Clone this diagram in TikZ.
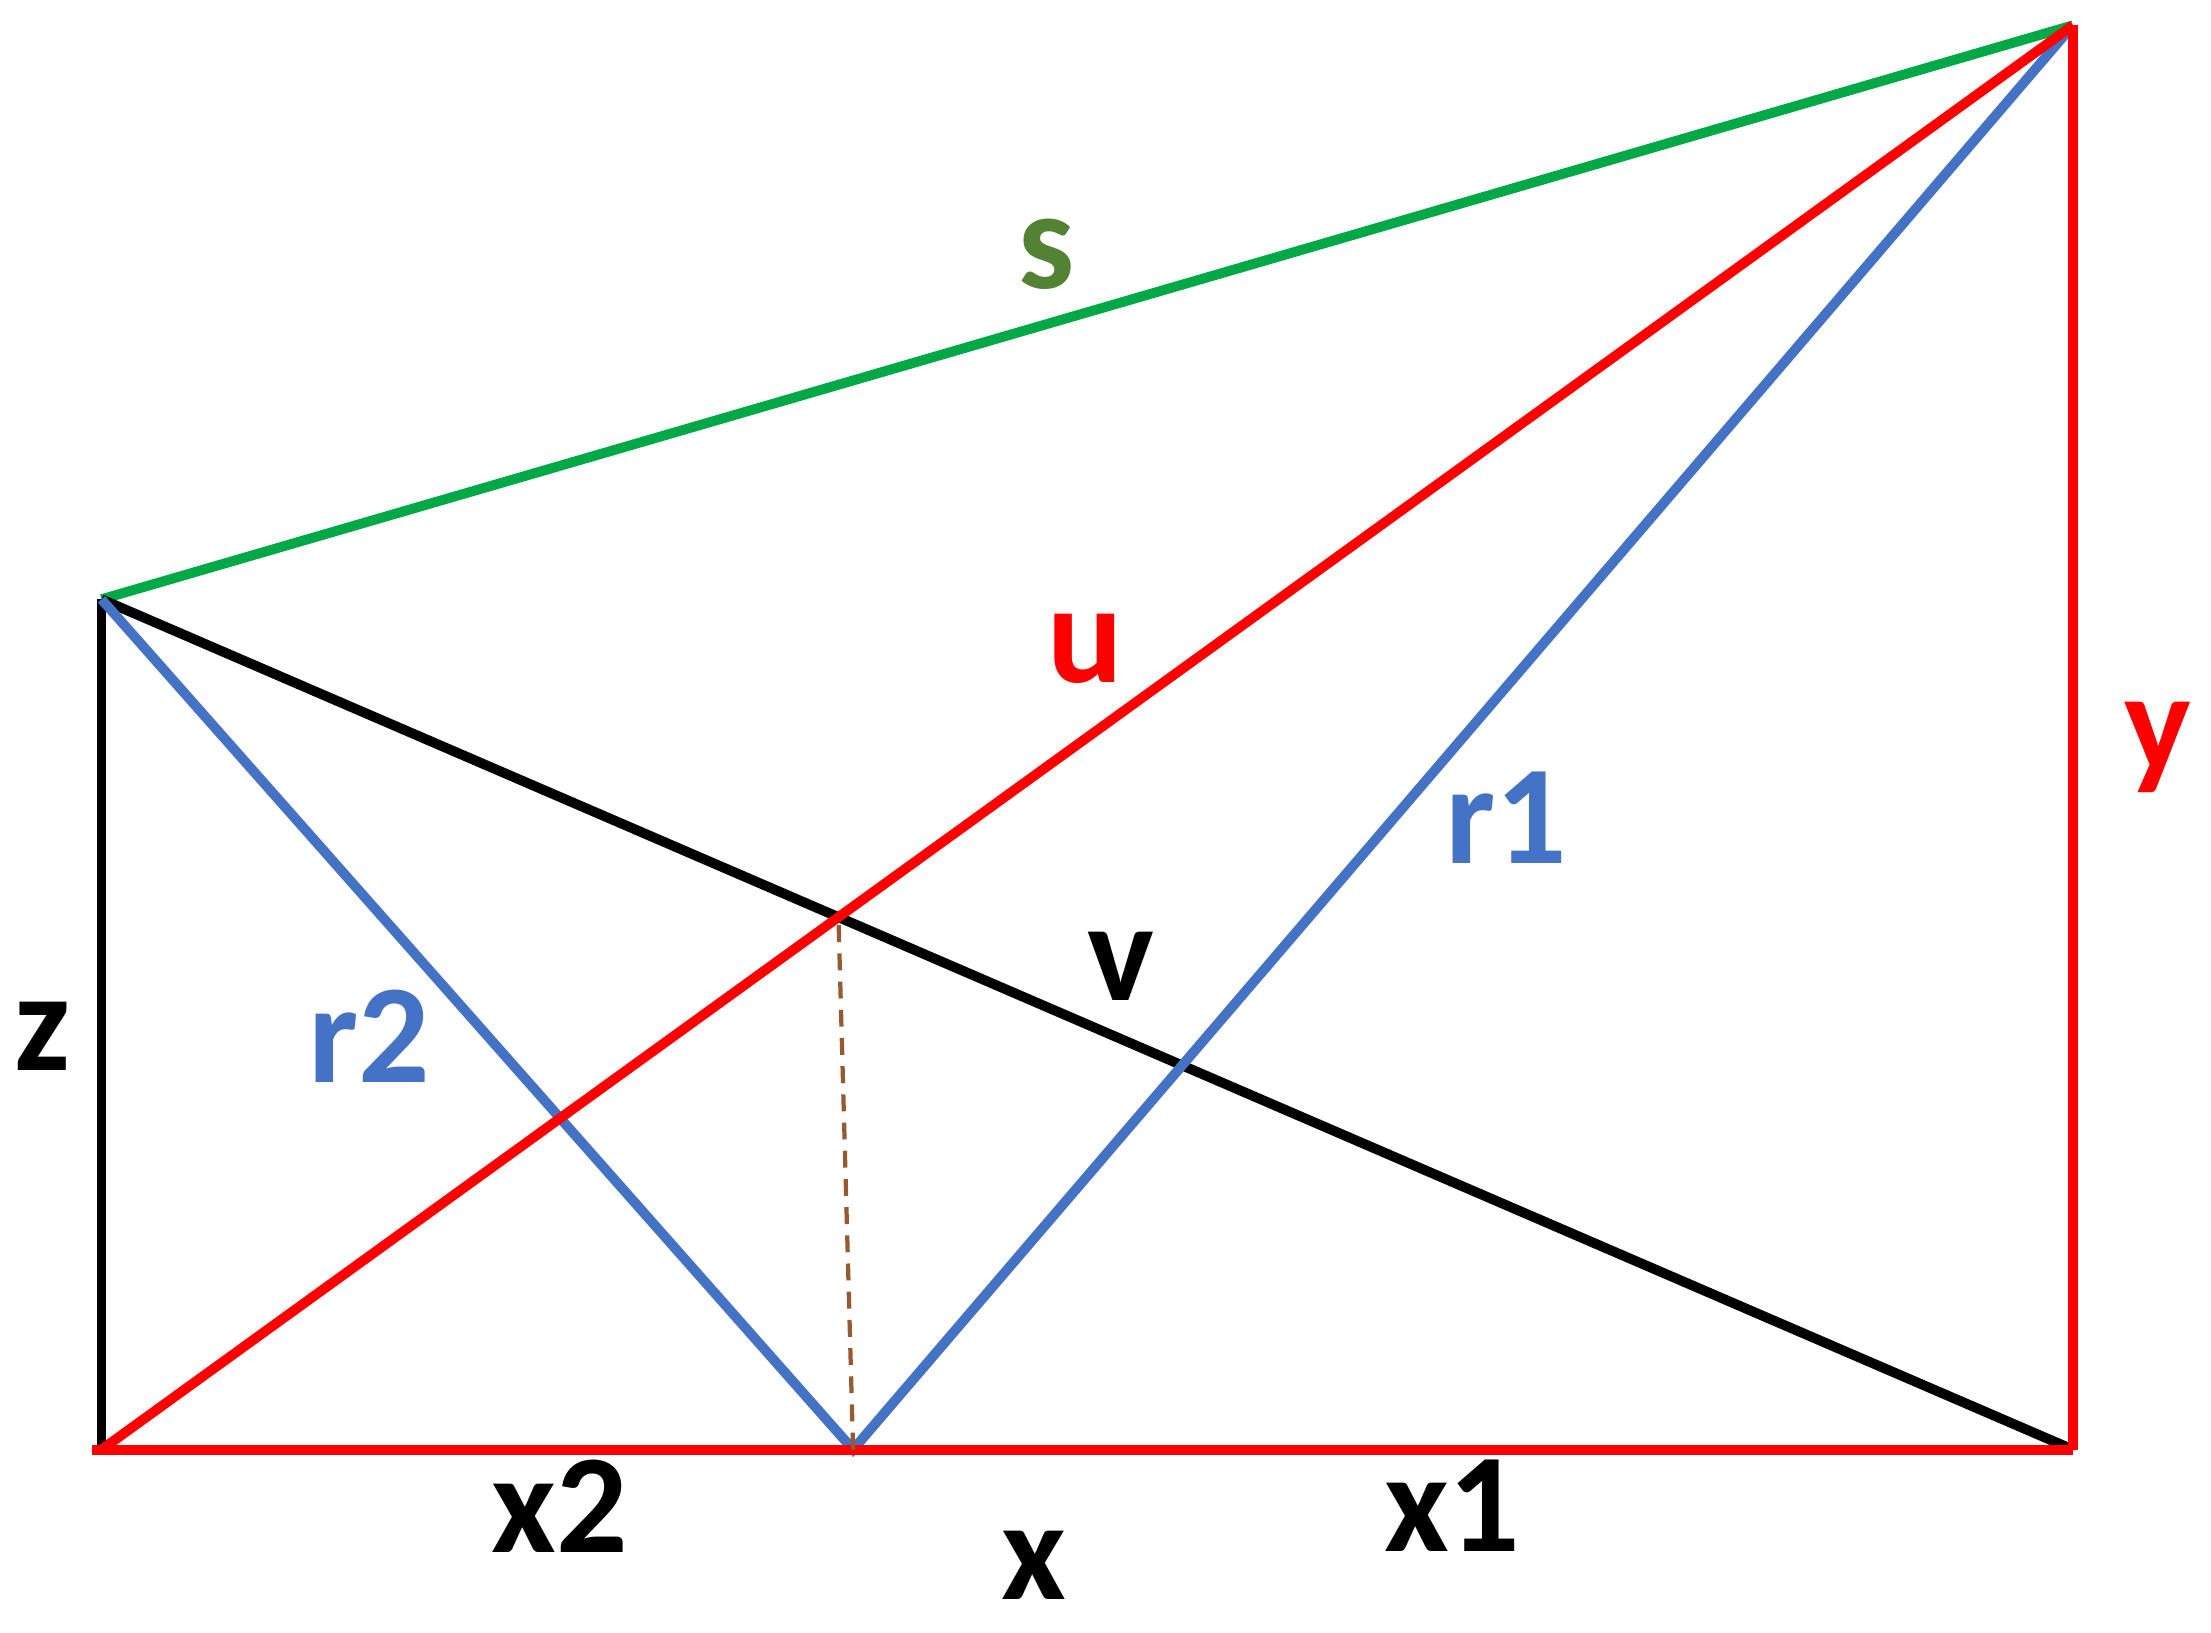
\documentclass[tikz,border=0pt]{standalone}
\usepackage{fontspec}
\setmainfont{Carlito}
\definecolor{lred}{RGB}{255,0,0}
\definecolor{lblue}{RGB}{68,114,196}
\definecolor{lgreen}{RGB}{0,168,70}
\definecolor{tgreen}{RGB}{84,130,53}
\definecolor{brown}{RGB}{150,90,50}
\begin{document}
\begin{tikzpicture}[x=1pt,y=-1pt,line width=7pt,
  lab/.style={font=\fontsize{100}{105}\selectfont\bfseries,inner sep=0pt}]
\useasboundingbox (0,0) rectangle (1568,1158);
\coordinate (A) at (72,1028);
\coordinate (Z) at (72,425);
\coordinate (Y) at (1470,18);
\coordinate (B) at (1470,1028);
\coordinate (M) at (605,1028);
\coordinate (I) at (intersection of A--Y and Z--B);
\draw[lgreen] (Z) -- (Y);
\draw[black] (A) -- (Z);
\draw[black] (Z) -- (B);
\draw[lblue] (Z) -- (M) -- (Y);
\draw[lred] (A) -- (Y);
\draw[lred] (Y) -- (B);
\draw[lred] (65,1028) -- (B);
\draw[brown,line width=3pt,dash pattern=on 12pt off 8pt] (M) -- (I);
\node[lab,text=tgreen] (s) at (742,180) {s};
\node[lab,text=lred] (u) at (770,460) {u};
\node[lab,text=lred] (y) at (1530,530) {y};
\node[lab,text=lblue] (r1) at (1068,580) {r1};
\node[lab] (v) at (795,685) {v};
\node[lab,text=lblue] (r2) at (262,735) {r2};
\node[lab] (z) at (30,735) {z};
\node[lab] (x2) at (397,1068) {x2};
\node[lab] (x1) at (1030,1068) {x1};
\node[lab] (x) at (733,1110) {x};
\end{tikzpicture}
\end{document}
